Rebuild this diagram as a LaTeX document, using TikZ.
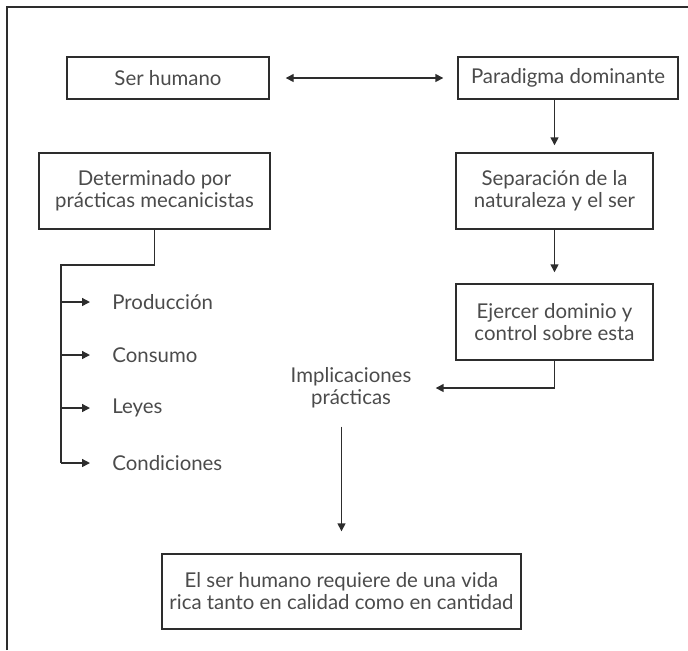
\documentclass[tikz,border=0pt]{standalone}
\usepackage{fontspec}
\setmainfont{Lato}
\usetikzlibrary{arrows.meta}
\definecolor{linegray}{RGB}{45,45,45}
\definecolor{txtgray}{RGB}{75,75,75}

\begin{document}
\begin{tikzpicture}[x=0.5pt,y=-0.5pt]
\tikzstyle{every node}+=[inner sep=0pt, font=\fontsize{10.2}{11}\selectfont, text=txtgray]
\tikzstyle{caja}=[draw=linegray, line width=0.7pt, align=center]
\tikzstyle{linea}=[draw=linegray, line width=0.7pt]
\tikzstyle{flecha}=[linea, -{Triangle[length=4pt,width=4pt]}]
\useasboundingbox (0,0) rectangle (688,650);
% marco
\draw [linea, line width=0.9pt] (7,650) -- (7,7) -- (688,7);
% cajas
\node [caja, minimum width=101pt, minimum height=21pt] (ser) at (168,78) {Ser humano};
\node [caja, minimum width=110pt, minimum height=21pt] (par) at (568,78) {Paradigma dominante};
\node [caja, minimum width=115.5pt, minimum height=38pt] (det) at (154.5,191) {Determinado por\\prácticas mecanicistas};
\node [caja, minimum width=98.5pt, minimum height=38pt] (sep) at (554.5,191) {Separación de la\\naturaleza y el ser};
\node [caja, minimum width=98.5pt, minimum height=38pt] (eje) at (554.5,322) {Ejercer dominio y\\control sobre esta};
\node [align=center] (imp) at (351,388) {Implicaciones\\prácticas};
\node [caja, minimum width=179.5pt, minimum height=37.5pt] (fin) at (341.5,591.5) {El ser humano requiere de una vida\\rica tanto en calidad como en cantidad};
% lista
\node [anchor=west] (prod) at (112,302) {Producción};
\node [anchor=west] (cons) at (112,355) {Consumo};
\node [anchor=west] (ley) at (112,408) {Leyes};
\node [anchor=west] (cond) at (112,463) {Condiciones};
\coordinate (codo) at (61,265);
% conectores
\draw [flecha, {Triangle[length=4pt,width=4pt]}-{Triangle[length=4pt,width=4pt]}, shorten <=8pt, shorten >=7pt] (ser.east) -- (par.west);
\draw [flecha, shorten >=3.5pt] (sep.north |- par.south) -- (sep.north);
\draw [flecha, shorten >=5.5pt] (sep.south) -- (eje.north);
\draw [flecha, shorten >=12pt] (eje.south) |- (imp.east);
\draw [flecha, shorten <=9pt, shorten >=11pt] (imp.south -| fin.north) -- (fin.north);
\draw [linea] (det.south) |- (codo) -- (codo |- cond.west);
\draw [flecha, shorten >=11pt] (codo |- prod.west) -- (prod.west);
\draw [flecha, shorten >=11pt] (codo |- cons.west) -- (cons.west);
\draw [flecha, shorten >=11pt] (codo |- ley.west) -- (ley.west);
\draw [flecha, shorten >=11pt] (codo |- cond.west) -- (cond.west);
\end{tikzpicture}
\end{document}
